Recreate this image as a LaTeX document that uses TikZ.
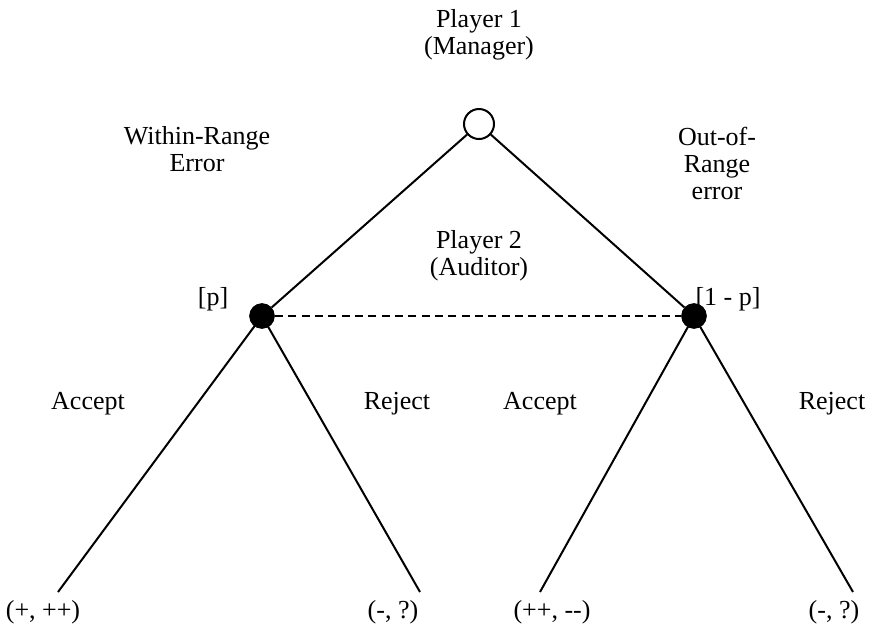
\documentclass[tikz,border=0pt]{standalone}
\usepackage{fontspec}
\setmainfont{Liberation Serif}
\begin{document}
\begin{tikzpicture}[x=0.75pt,y=-0.75pt,
  lbl/.style={font=\fontsize{19.5}{20.25}\selectfont, align=center, inner sep=0pt},
  edge/.style={line width=1.5pt},
  opennode/.style={circle, draw, line width=1.5pt, fill=white, minimum size=22.5pt, inner sep=0pt},
  filled/.style={circle, fill=black, minimum size=19pt, inner sep=0pt},
  info/.style={line width=1.5pt, dash pattern=on 6pt off 4pt}]
\useasboundingbox (0,0) rectangle (869,637);
% nodes
\node[opennode] (root) at (479,124) {};
\node[filled] (L) at (262,316) {};
\node[filled] (R) at (694,316) {};
\coordinate (LL) at (58,592);
\coordinate (LR) at (420,592);
\coordinate (RL) at (540,592);
\coordinate (RR) at (853,592);
% edges
\draw[info] (L) -- (R);
\draw[edge] (root) -- (L);
\draw[edge] (root) -- (R);
\draw[edge] (L.center) -- (LL);
\draw[edge] (L.center) -- (LR);
\draw[edge] (R.center) -- (RL);
\draw[edge] (R.center) -- (RR);
\node[filled] at (L) {};
\node[filled] at (R) {};
% labels
\node[lbl] (p1) at (479,35) {Player 1\\(Manager)};
\node[lbl] (wr) at (197,149) {Within-Range\\Error};
\node[lbl] (p2) at (479,256) {Player 2\\(Auditor)};
\node[lbl] (pp) at (213,299) {[p]};
\node[lbl] (oor) at (717,163) {Out-of-\\Range\\error};
\node[lbl] (qp) at (728,299) {[1 - p]};
\node[lbl] (a1) at (88,404) {Accept};
\node[lbl] (r1) at (397,404) {Reject};
\node[lbl] (a2) at (540,404) {Accept};
\node[lbl] (r2) at (832,404) {Reject};
\node[lbl] (o1) at (43,612) {(+, ++)};
\node[lbl] (o2) at (393,612) {(-, ?)};
\node[lbl] (o3) at (552,612) {(++, -{}-)};
\node[lbl] (o4) at (834,612) {(-, ?)};
\end{tikzpicture}
\end{document}
